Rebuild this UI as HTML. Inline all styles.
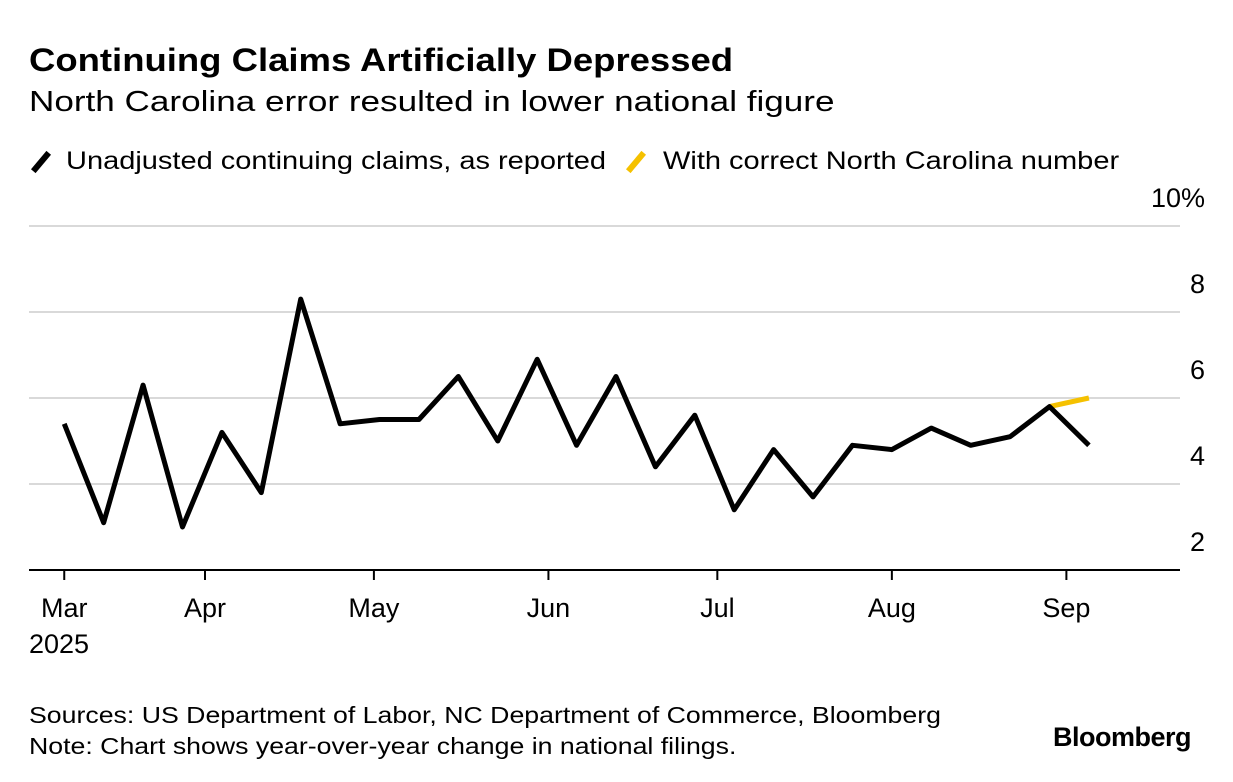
<!DOCTYPE html>
<html><head><meta charset="utf-8"><style>
body{margin:0;background:#fff;width:1233px;height:782px;overflow:hidden;font-family:"Liberation Sans",sans-serif;color:#000}
.t{position:absolute;white-space:nowrap;transform-origin:0 0}
.sl{position:absolute;width:6px;height:24px;transform:rotate(40deg)}
</style></head><body>
<div class="t" style="left:29px;top:42px;font-size:32px;font-weight:bold;transform:scaleX(1.14)">Continuing Claims Artificially Depressed</div>
<div class="t" style="left:29px;top:86px;font-size:29px;transform:scaleX(1.21)">North Carolina error resulted in lower national figure</div>
<div class="sl" style="left:38px;top:150px;background:#000"></div>
<div class="t" style="left:66px;top:147px;font-size:25px;transform:scaleX(1.16)">Unadjusted continuing claims, as reported</div>
<div class="sl" style="left:633px;top:150px;background:#f5c100"></div>
<div class="t" style="left:663px;top:147px;font-size:25px;transform:scaleX(1.16)">With correct North Carolina number</div>
<svg id="chart" width="1233" height="782" style="position:absolute;left:0;top:0"></svg>
<div class="t" style="left:29px;top:700px;font-size:23px;line-height:31px;transform:scaleX(1.16)">Sources: US Department of Labor, NC Department of Commerce, Bloomberg<br>Note: Chart shows year-over-year change in national filings.</div>
<div class="t" style="left:1053px;top:722px;font-size:27px;font-weight:bold;letter-spacing:-0.5px">Bloomberg</div>
<script>
const yTicks=[2,4,6,8,10];
const monthLabels=["Mar","Apr","May","Jun","Jul","Aug","Sep"];
const monthDays=[-25,0,30,61,91,122,153];
const startDay=-25;
const reported=[5.4,3.1,6.3,3.0,5.2,3.8,8.3,5.4,5.5,5.5,6.5,5.0,6.9,4.9,6.5,4.4,5.6,3.4,4.8,3.7,4.9,4.8,5.3,4.9,5.1,5.8,4.9];
const corrected=[5.8,6.0];
const NS="http://www.w3.org/2000/svg";
const svg=document.getElementById('chart');
const x=d=>205+d*5.63;
const y=v=>570-(v-2)*43;
function mk(t,a){const e=document.createElementNS(NS,t);for(const k in a)e.setAttribute(k,a[k]);svg.appendChild(e);return e;}
yTicks.forEach((v,i)=>{
 if(i>0){const g=mk('line',{x1:29,x2:1180,y1:y(v),y2:y(v),stroke:'#d9d9d9','stroke-width':2});
 
 }
 const t=mk('text',{x:1205,y:y(v)-19,'text-anchor':'end','font-size':27,'font-family':'Liberation Sans'});
 t.textContent=v+(i==yTicks.length-1?'%':'');
 
 
});
const ax=mk('line',{x1:29,x2:1180,y1:570,y2:570,stroke:'#000','stroke-width':2});


monthDays.forEach((d,i)=>{
 const tk=mk('line',{x1:x(d),x2:x(d),y1:570,y2:580,stroke:'#000','stroke-width':2});
 
 
 const t=mk('text',{x:x(d),y:617,'text-anchor':'middle','font-size':27,'font-family':'Liberation Sans'});
 t.textContent=monthLabels[i];
 
 
});
const yr=mk('text',{x:29,y:653,'font-size':27,'font-family':'Liberation Sans'});yr.textContent='2025';


const n=reported.length;
const cp=corrected.map((v,i)=>x(startDay+(n-2+i)*7)+','+y(v)).join(' ');
const c=mk('polyline',{points:cp,fill:'none',stroke:'#f5c100','stroke-width':5,'stroke-linejoin':'round'});


const rp=reported.map((v,i)=>x(startDay+i*7)+','+y(v)).join(' ');
const r=mk('polyline',{points:rp,fill:'none',stroke:'#000','stroke-width':5,'stroke-linejoin':'round'});


</script>
</body></html>
